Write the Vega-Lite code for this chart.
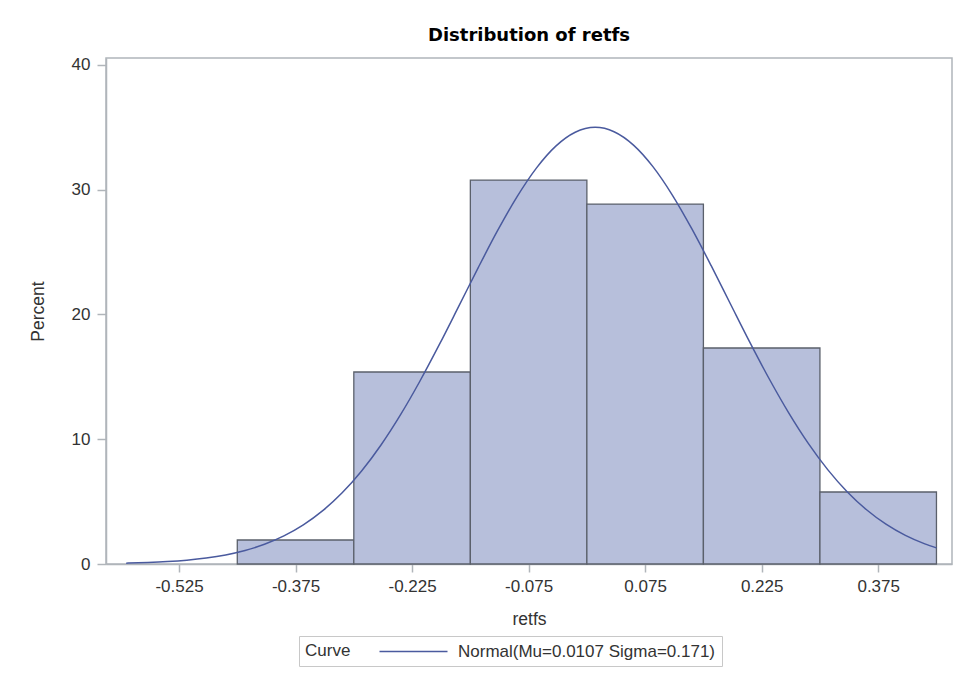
{
  "$schema": "https://vega.github.io/schema/vega-lite/v6.json",
  "autosize": "none",
  "width": 846,
  "height": 506,
  "padding": {"left": 106, "top": 58, "right": 6, "bottom": 111},
  "background": "white",
  "title": {
    "text": "Distribution of retfs",
    "font": "DejaVu Sans",
    "fontSize": 18,
    "fontWeight": "bold",
    "color": "#000000",
    "anchor": "middle",
    "offset": 11
  },
  "config": {
    "view": {"stroke": "#b0b5ba", "strokeWidth": 1.5},
    "axis": {
      "labelFont": "Liberation Sans",
      "titleFont": "Liberation Sans",
      "labelFontSize": 17,
      "titleFontSize": 17.5,
      "labelColor": "#333333",
      "titleColor": "#333333",
      "titleFontWeight": "normal",
      "domainColor": "#b0b5ba",
      "domainWidth": 1.5,
      "tickColor": "#b0b5ba",
      "tickWidth": 1.5,
      "grid": false
    },
    "legend": {
      "labelFont": "Liberation Sans",
      "titleFont": "Liberation Sans",
      "labelFontSize": 17,
      "titleFontSize": 17,
      "labelColor": "#333333",
      "titleColor": "#333333",
      "titleFontWeight": "normal",
      "labelLimit": 500
    }
  },
  "datasets": {
    "bins": [
      {"lo": -0.45, "hi": -0.3, "pct": 1.923},
      {"lo": -0.3, "hi": -0.15, "pct": 15.385},
      {"lo": -0.15, "hi": 0.0, "pct": 30.769},
      {"lo": 0.0, "hi": 0.15, "pct": 28.846},
      {"lo": 0.15, "hi": 0.3, "pct": 17.308},
      {"lo": 0.3, "hi": 0.45, "pct": 5.769}
    ],
    "curve": [
      {"x": -0.593, "y": 0.069},
      {"x": -0.59, "y": 0.073},
      {"x": -0.565, "y": 0.121},
      {"x": -0.54, "y": 0.196},
      {"x": -0.515, "y": 0.31},
      {"x": -0.49, "y": 0.481},
      {"x": -0.465, "y": 0.73},
      {"x": -0.44, "y": 1.085},
      {"x": -0.415, "y": 1.579},
      {"x": -0.39, "y": 2.248},
      {"x": -0.365, "y": 3.132},
      {"x": -0.34, "y": 4.272},
      {"x": -0.315, "y": 5.704},
      {"x": -0.29, "y": 7.456},
      {"x": -0.265, "y": 9.539},
      {"x": -0.24, "y": 11.948},
      {"x": -0.215, "y": 14.646},
      {"x": -0.19, "y": 17.573},
      {"x": -0.165, "y": 20.642},
      {"x": -0.14, "y": 23.732},
      {"x": -0.115, "y": 26.709},
      {"x": -0.09, "y": 29.424},
      {"x": -0.065, "y": 31.728},
      {"x": -0.04, "y": 33.49},
      {"x": -0.015, "y": 34.602},
      {"x": 0.0107, "y": 34.995},
      {"x": 0.035, "y": 34.643},
      {"x": 0.06, "y": 33.57},
      {"x": 0.085, "y": 31.843},
      {"x": 0.11, "y": 29.565},
      {"x": 0.135, "y": 26.869},
      {"x": 0.16, "y": 23.905},
      {"x": 0.185, "y": 20.816},
      {"x": 0.21, "y": 17.743},
      {"x": 0.235, "y": 14.805},
      {"x": 0.26, "y": 12.092},
      {"x": 0.285, "y": 9.666},
      {"x": 0.31, "y": 7.564},
      {"x": 0.335, "y": 5.793},
      {"x": 0.36, "y": 4.344},
      {"x": 0.385, "y": 3.189},
      {"x": 0.41, "y": 2.291},
      {"x": 0.435, "y": 1.611},
      {"x": 0.45, "y": 1.291}
    ]
  },
  "layer": [
    {
      "data": {"name": "bins"},
      "mark": {"type": "rect", "fill": "#b7bfdb", "stroke": "#5b606b", "strokeWidth": 1.3},
      "encoding": {
        "x": {
          "field": "lo",
          "type": "quantitative",
          "scale": {"domain": [-0.619, 0.47], "nice": false, "zero": false},
          "axis": {
            "title": "retfs",
            "values": [-0.525, -0.375, -0.225, -0.075, 0.075, 0.225, 0.375],
            "labelExpr": "replace(format(datum.value, '.3f'), '\u2212', '-')",
            "tickSize": 8,
            "labelPadding": 6,
            "titlePadding": 16
          }
        },
        "x2": {"field": "hi"},
        "y": {
          "field": "pct",
          "type": "quantitative",
          "scale": {"domain": [0, 40.55], "nice": false},
          "axis": {
            "title": "Percent",
            "values": [0, 10, 20, 30, 40],
            "tickSize": 9,
            "labelPadding": 7,
            "titlePadding": 24
          }
        },
        "y2": {"datum": 0}
      }
    },
    {
      "data": {"name": "curve"},
      "transform": [{"calculate": "'Normal(Mu=0.0107 Sigma=0.171)'", "as": "Curve"}],
      "mark": {"type": "line", "strokeWidth": 1.5, "interpolate": "monotone"},
      "encoding": {
        "x": {"field": "x", "type": "quantitative"},
        "y": {"field": "y", "type": "quantitative"},
        "color": {
          "field": "Curve",
          "type": "nominal",
          "scale": {"range": ["#4a5a9e"]},
          "legend": {
            "orient": "none",
            "legendX": 193,
            "legendY": 578,
            "direction": "horizontal",
            "titleOrient": "left",
            "titlePadding": 19,
            "symbolType": "M0,0H8",
            "symbolSize": 289,
            "symbolStrokeWidth": 1.5,
            "labelOffset": 69,
            "strokeColor": "#c8c8c8",
            "padding": 6
          }
        }
      }
    }
  ]
}
